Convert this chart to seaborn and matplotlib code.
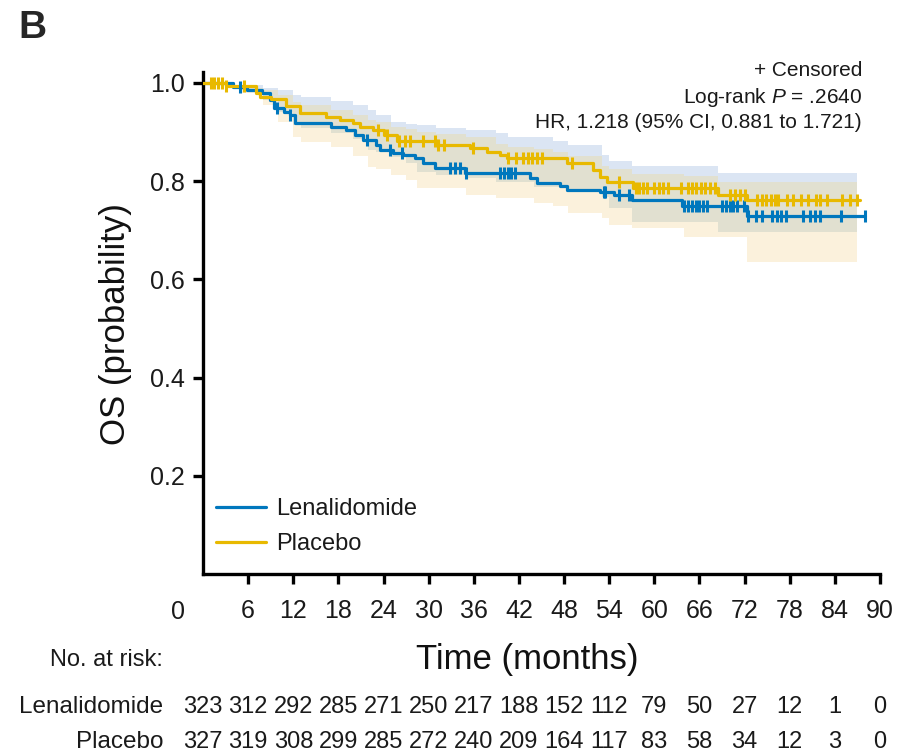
import numpy as np
import pandas as pd
import matplotlib
matplotlib.use("Agg")
import matplotlib.pyplot as plt
import matplotlib.transforms as mtransforms
import seaborn as sns

# ---------------- data ----------------
len_t = [0, 4.0, 5.8, 7.8, 8.9, 9.5, 10.8, 11.6, 12.2, 17.0, 19.0, 20.2, 21.3, 23.0, 23.5,
         25.3, 26.6, 28.2, 29.3, 30.9, 34.8, 43.5, 44.4, 47.5, 48.4, 52.8, 54.6, 57.0,
         63.7, 72.3, 88.0]
len_s = [1.0, 0.992, 0.986, 0.979, 0.965, 0.949, 0.941, 0.935, 0.918, 0.911, 0.904, 0.894,
         0.884, 0.874, 0.864, 0.858, 0.853, 0.847, 0.836, 0.826, 0.817, 0.806, 0.797, 0.789,
         0.782, 0.778, 0.772, 0.762, 0.749, 0.728, 0.728]

plc_t = [0, 3.0, 7.0, 7.6, 9.1, 11.1, 12.9, 16.4, 18.2, 20.0, 20.9, 22.6, 24.0, 25.8, 31.3,
         35.5, 37.7, 39.5, 40.4, 48.4, 51.9, 52.8, 53.7, 57.2, 68.5, 72.3, 87.4]
plc_s = [1.0, 0.993, 0.979, 0.972, 0.967, 0.952, 0.938, 0.931, 0.925, 0.918, 0.911, 0.904,
         0.894, 0.881, 0.874, 0.867, 0.860, 0.853, 0.847, 0.836, 0.823, 0.809, 0.799, 0.786,
         0.772, 0.762, 0.762]

len_cens = [4.9, 9.8, 11.6, 21.8, 24.9, 26.4, 32.8, 33.5, 34.2, 35.0, 39.5, 40.0, 40.5, 41.0,
            41.5, 53.3, 53.5, 55.3, 56.6, 64.0, 64.5, 65.0, 65.5, 66.0, 66.5, 67.0, 69.0,
            69.5, 70.0, 70.5, 71.0, 71.9, 72.4, 73.5, 74.3, 75.7, 76.3, 76.9, 77.5, 79.8,
            80.7, 81.3, 82.0, 84.8, 88.0]
plc_cens = [1.0, 1.5, 2.0, 2.5, 3.0, 5.5, 23.3, 24.5, 26.0, 26.8, 27.5, 29.3, 30.8, 31.3,
            32.0, 35.9, 40.6, 41.6, 42.6, 43.2, 43.8, 44.4, 45.0, 49.0, 55.3, 57.5, 58.0,
            58.5, 59.0, 60.0, 60.6, 61.2, 61.8, 63.5, 64.5, 65.0, 65.6, 66.2, 66.8, 67.4,
            68.0, 70.0, 70.7, 71.4, 72.0, 73.7, 74.3, 74.9, 75.5, 76.1, 76.5, 77.6, 78.5,
            79.5, 80.4, 81.5, 82.0, 83.0, 85.0, 86.0, 87.0]

# confidence bands (upper band shown light blue, lower band light yellow)
ci_t = [0, 5, 8, 10, 12, 13, 17, 20, 22, 23, 25, 27, 28.5, 31, 35, 39, 40.5, 44, 46.5,
        48.5, 53, 54, 57, 64, 68.5, 72.3, 87]
bandA_hi = [1.0, 0.995, 0.99, 0.986, 0.975, 0.972, 0.962, 0.955, 0.945, 0.935, 0.921, 0.916,
            0.914, 0.908, 0.904, 0.897, 0.889, 0.889, 0.882, 0.874, 0.853, 0.84, 0.831,
            0.831, 0.817, 0.817, 0.817]
bandA_lo = [1.0, 0.985, 0.965, 0.94, 0.915, 0.908, 0.898, 0.885, 0.864, 0.86, 0.849, 0.836,
            0.819, 0.813, 0.806, 0.798, 0.798, 0.788, 0.788, 0.778, 0.768, 0.745, 0.717,
            0.717, 0.697, 0.697, 0.697]
bandB_hi = [1.0, 0.99, 0.985, 0.975, 0.96, 0.955, 0.945, 0.935, 0.925, 0.92, 0.91, 0.905,
            0.90, 0.895, 0.89, 0.875, 0.87, 0.865, 0.86, 0.85, 0.83, 0.825, 0.815, 0.81,
            0.799, 0.799, 0.799]
bandB_lo = [1.0, 0.98, 0.955, 0.92, 0.89, 0.88, 0.87, 0.85, 0.829, 0.825, 0.813, 0.802,
            0.786, 0.786, 0.772, 0.765, 0.765, 0.755, 0.75, 0.735, 0.725, 0.711, 0.705,
            0.686, 0.686, 0.636, 0.636]

risk_times = [0, 6, 12, 18, 24, 30, 36, 42, 48, 54, 60, 66, 72, 78, 84, 90]
risk_len = [323, 312, 292, 285, 271, 250, 217, 188, 152, 112, 79, 50, 27, 12, 1, 0]
risk_plc = [327, 319, 308, 299, 285, 272, 240, 209, 164, 117, 83, 58, 34, 12, 3, 0]

x_ticks = [6, 12, 18, 24, 30, 36, 42, 48, 54, 60, 66, 72, 78, 84, 90]
y_ticks = [0.2, 0.4, 0.6, 0.8, 1.0]

groups = ["Lenalidomide", "Placebo"]
colors = {"Lenalidomide": "#0077bd", "Placebo": "#e8b900"}

# ---------------- style ----------------
sns.set_theme(style="ticks")
FONT = ["Liberation Sans", "DejaVu Sans"]
plt.rcParams["font.family"] = FONT
plt.rcParams["mathtext.fontset"] = "custom"
plt.rcParams["mathtext.rm"] = "Liberation Sans"
plt.rcParams["mathtext.it"] = "Liberation Sans:italic"

TXT = "#1a1a1a"
fig = plt.figure(figsize=(8.97, 7.52), dpi=100)
W, H = 897, 752
ax_l, ax_r, ax_b, ax_t = 203, 880, 574, 72
ax = fig.add_axes([ax_l / W, 1 - ax_b / H, (ax_r - ax_l) / W, (ax_b - ax_t) / H])

# bands
ci = np.array(ci_t)
aH, aL, bH, bL = map(np.array, (bandA_hi, bandA_lo, bandB_hi, bandB_lo))
ax.fill_between(ci, aL, aH, step="post", color="#dbe5f3", lw=0, zorder=1)
ax.fill_between(ci, bL, bH, step="post", color="#fbf1dc", lw=0, zorder=1)
ov_lo = np.maximum(aL, bL)
ov_hi = np.minimum(aH, bH)
ax.fill_between(ci, ov_lo, ov_hi, where=ov_hi >= ov_lo, step="post", color="#e1e0d0",
                lw=0, zorder=1, interpolate=False)

# lines
df = pd.concat([
    pd.DataFrame({"t": len_t, "s": len_s, "grp": "Lenalidomide"}),
    pd.DataFrame({"t": plc_t, "s": plc_s, "grp": "Placebo"}),
])
sns.lineplot(data=df, x="t", y="s", hue="grp", hue_order=groups, palette=colors,
             drawstyle="steps-post", estimator=None, sort=False, lw=2.3, ax=ax, zorder=3)


def surv_at(times, tt, ss):
    idx = np.searchsorted(np.array(tt), np.array(times), side="right") - 1
    return np.array(ss)[idx]


cdf = pd.concat([
    pd.DataFrame({"t": len_cens, "s": surv_at(len_cens, len_t, len_s), "grp": "Lenalidomide"}),
    pd.DataFrame({"t": plc_cens, "s": surv_at(plc_cens, plc_t, plc_s), "grp": "Placebo"}),
])
for g in groups:
    sub = cdf[cdf.grp == g]
    ax.plot(sub.t, sub.s, ls="none", marker="|", ms=9, mew=2.2, color=colors[g], zorder=4)

# axes
ax.set_xlim(0, 90)
ax.set_ylim(0, 1.022)
ax.set_xticks(x_ticks)
ax.set_xticklabels([str(v) for v in x_ticks])
ax.set_yticks(y_ticks)
ax.set_yticklabels([f"{v:.1f}" for v in y_ticks])
sns.despine(ax=ax)
for sp in ("left", "bottom"):
    ax.spines[sp].set_linewidth(2.4)
    ax.spines[sp].set_color("black")
ax.tick_params(axis="both", length=7, width=2.4, color="black", labelsize=18,
               labelcolor=TXT)
ax.tick_params(axis="x", pad=11)
ax.tick_params(axis="y", pad=6)

ax_h = ax_b - ax_t
ax_w = ax_r - ax_l

# origin label "0"
off = mtransforms.offset_copy(ax.transData, fig=fig, x=-25, y=0, units="dots")
ax.text(0, (ax_b - 612) / ax_h, "0",
        transform=mtransforms.blended_transform_factory(off, ax.transAxes),
        ha="center", va="center", fontsize=18, color=TXT)

ax.set_xlabel("Time (months)", fontsize=25, color="#111111", va="center")
ax.xaxis.set_label_coords((527 - ax_l) / ax_w, (ax_b - 660) / ax_h)
ax.set_ylabel("OS (probability)", fontsize=25, color="#111111", va="center")
ax.yaxis.set_label_coords((115 - ax_l) / ax_w, (ax_b - 324) / ax_h)

# legend
handles, labels = ax.get_legend_handles_labels()
ax.legend(handles[:2], groups, loc="upper left",
          bbox_to_anchor=((216 - ax_l) / ax_w, (ax_b - 498) / ax_h),
          frameon=False, fontsize=17, handlelength=2.1, handletextpad=0.45,
          labelspacing=0.55, borderpad=0, borderaxespad=0, labelcolor=TXT)

# annotation
ann_x = (862 - ax_l) / ax_w
ax.text(ann_x, (ax_b - 70) / ax_h, "+ Censored", transform=ax.transAxes, ha="right",
        va="center", fontsize=15, color=TXT)
ax.text(ann_x, (ax_b - 97) / ax_h, "Log-rank $P$ = .2640", transform=ax.transAxes, ha="right",
        va="center", fontsize=15, color=TXT)
ax.text(ann_x, (ax_b - 122) / ax_h, "HR, 1.218 (95% CI, 0.881 to 1.721)", transform=ax.transAxes,
        ha="right", va="center", fontsize=15, color=TXT)

# risk table
bt = mtransforms.blended_transform_factory(ax.transData, ax.transAxes)
row_y = {"Lenalidomide": (ax_b - 707) / ax_h, "Placebo": (ax_b - 742) / ax_h}
lab_x = (163 - ax_l) / ax_w
ax.text(lab_x, (ax_b - 660) / ax_h, "No. at risk:", transform=ax.transAxes, ha="right",
        va="center", fontsize=17, color=TXT)
for g, vals in zip(groups, [risk_len, risk_plc]):
    ax.text(lab_x, row_y[g], g, transform=ax.transAxes, ha="right", va="center", fontsize=17.5,
            color=TXT)
    for tt, v in zip(risk_times, vals):
        ax.text(tt, row_y[g], str(v), transform=bt, ha="center", va="center", fontsize=17,
                color=TXT, clip_on=False)

# panel label
fig.text(18 / W, 1 - 28 / H, "B", fontsize=28, fontweight="bold", ha="left", va="center",
         family=["Liberation Sans", "DejaVu Sans"])

fig.savefig("out.png", dpi=100)
